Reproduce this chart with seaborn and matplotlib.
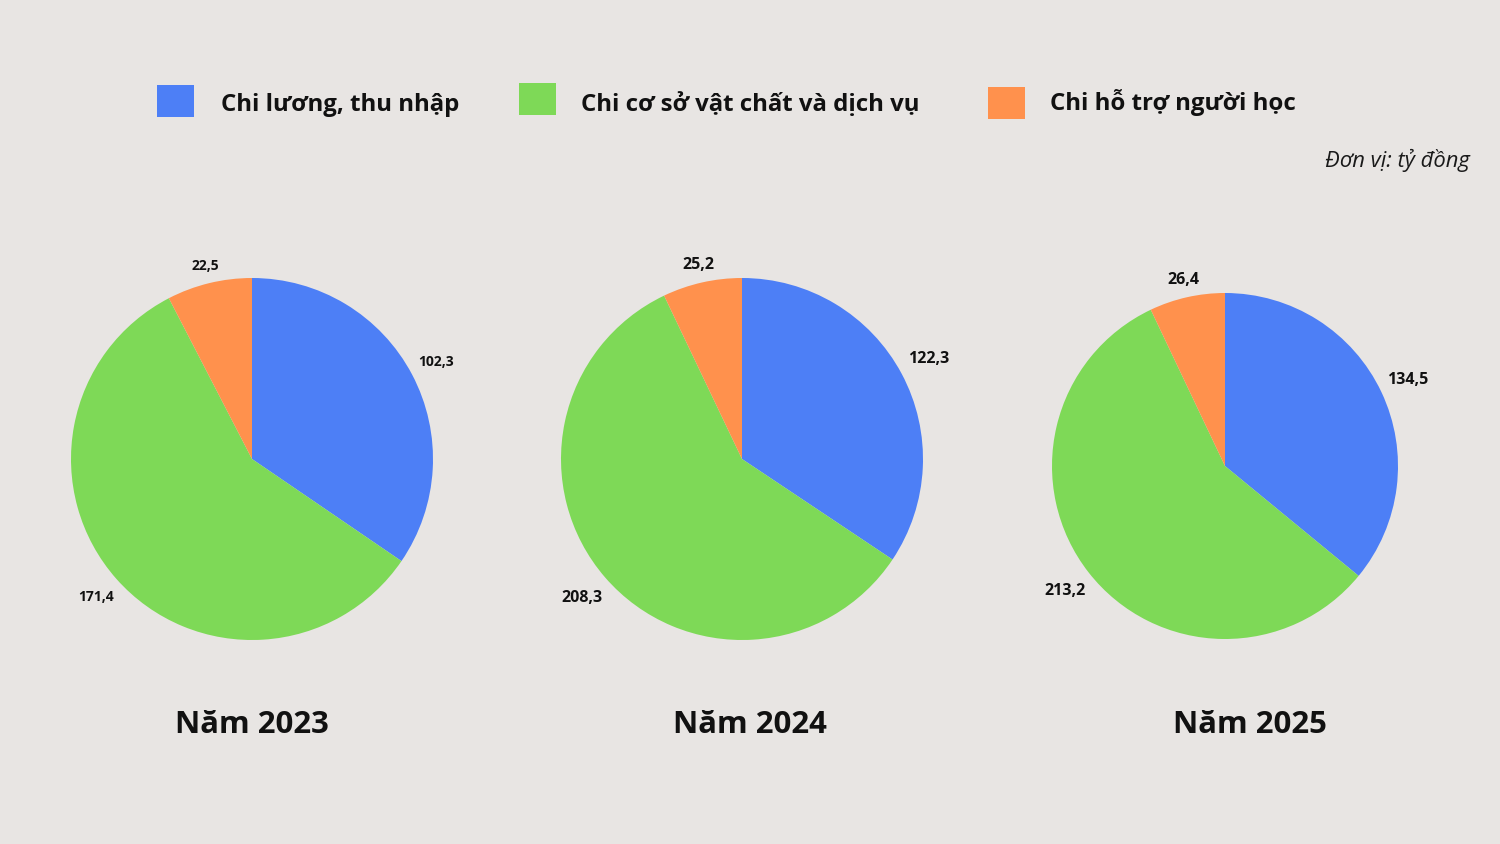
import matplotlib.pyplot as plt
import seaborn as sns
from matplotlib.patches import Rectangle

sns.set_theme(style='white')
plt.rcParams['font.family'] = ['Open Sans', 'DejaVu Sans']

# Data (tỷ đồng)
categories = ['Chi lương, thu nhập', 'Chi cơ sở vật chất và dịch vụ', 'Chi hỗ trợ người học']
years = ['Năm 2023', 'Năm 2024', 'Năm 2025']
luong = [102.3, 122.3, 134.5]
csvc = [171.4, 208.3, 213.2]
ho_tro = [22.5, 25.2, 26.4]

colors = ['#4D7FF6', '#7ED957', '#FF914D']
bg = '#E8E5E3'

W, H = 1500, 844
fig = plt.figure(figsize=(15, 8.44), dpi=100, facecolor=bg)
ax = fig.add_axes([0, 0, 1, 1])
ax.set_facecolor(bg)

# pie layout in pixel units (x, y from top, radius)
centers = [(252, 459), (742, 459), (1225, 466)]
radii = [181, 181, 173]
label_sizes = [10, 11.5, 11.5]
label_dist = [1.15, 1.17, 1.17]
title_x = [252, 750, 1250]

for i in range(3):
    vals = [luong[i], csvc[i], ho_tro[i]]
    labs = [f'{v:.1f}'.replace('.', ',') for v in vals]
    cx, cy = centers[i]
    cy = H - cy
    wedges, texts = ax.pie(vals, labels=labs, colors=colors, startangle=90,
                           counterclock=False, center=(cx, cy), radius=radii[i],
                           labeldistance=label_dist[i],
                           textprops=dict(fontsize=label_sizes[i], fontweight='bold',
                                          color='#111111'),
                           wedgeprops=dict(linewidth=0))
    for t in texts:
        t.set_ha('center')
    # small slice label sits closer to the pie
    tx, ty = texts[2].get_position()
    k = 1.10 / label_dist[i]
    texts[2].set_position((cx + (tx - cx) * k, cy + (ty - cy) * k))
    ax.text(title_x[i], H - 725, years[i], ha='center', va='center',
            fontsize=22.4, fontweight='bold', color='#111111')

# legend
leg_box = [(157, 85), (519, 83), (988, 87)]
leg_text = [(221, 105), (581, 105), (1050, 103)]
for (bx, by), (tx, ty), c, name in zip(leg_box, leg_text, colors, categories):
    ax.add_patch(Rectangle((bx, H - by - 32), 37, 32, facecolor=c, edgecolor='none'))
    ax.text(tx, H - ty, name, ha='left', va='center', fontsize=17.3,
            fontweight='bold', color='#111111')

ax.text(1470, H - 160, 'Đơn vị: tỷ đồng', ha='right', va='center', fontsize=15.8,
        style='italic', color='#1a1a1a')

ax.set_xlim(0, W)
ax.set_ylim(0, H)
ax.set_aspect('auto')
ax.axis('off')

fig.savefig('out.png', dpi=100, facecolor=bg)
